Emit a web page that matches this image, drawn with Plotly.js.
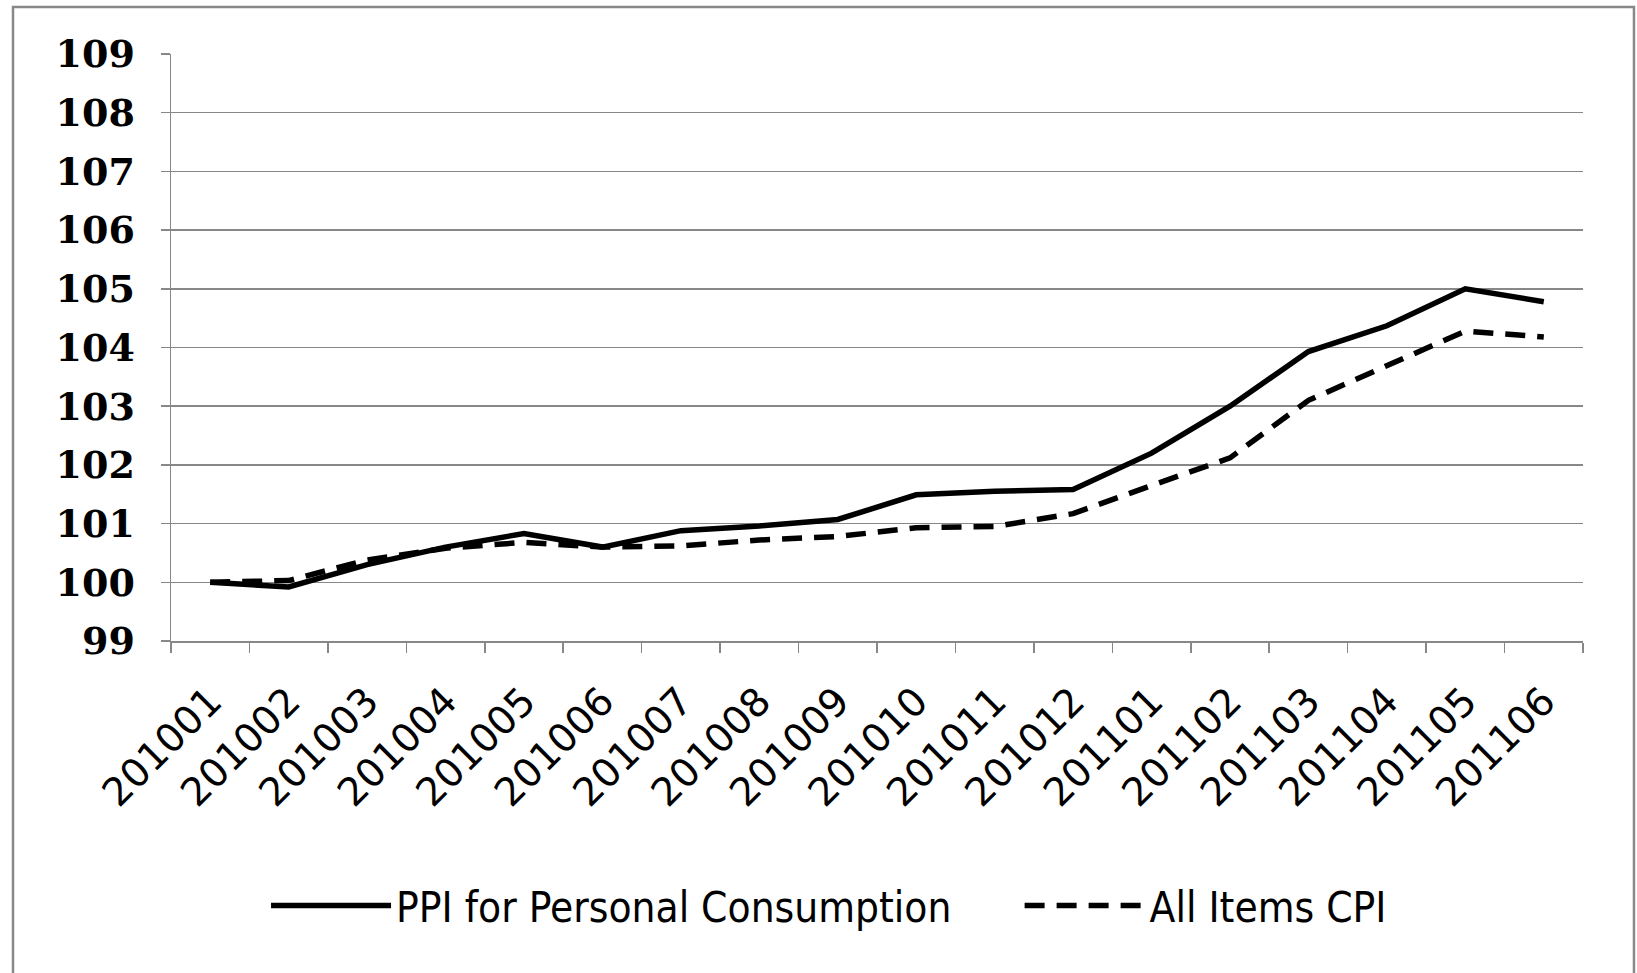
<!DOCTYPE html>
<html>
<head>
<meta charset="utf-8">
<script src="https://cdn.plot.ly/plotly-3.0.1.min.js"></script>
<style>
  html, body { margin: 0; padding: 0; background: #fff; }
  #chart { width: 1637px; height: 973px; }
</style>
</head>
<body>
<div id="chart"></div>
<script>
const months = ['201001','201002','201003','201004','201005','201006','201007','201008','201009',
                '201010','201011','201012','201101','201102','201103','201104','201105','201106'];
const ppiPersonal = [100.0, 99.92, 100.3, 100.6, 100.83, 100.6, 100.88, 100.96, 101.07,
                     101.49, 101.55, 101.58, 102.2, 103.0, 103.93, 104.37, 105.0, 104.78];
const cpiAllItems = [100.0, 100.03, 100.38, 100.58, 100.68, 100.6, 100.62, 100.72, 100.78,
                     100.93, 100.95, 101.17, 101.65, 102.12, 103.1, 103.7, 104.28, 104.18];
const yTicks = [99, 100, 101, 102, 103, 104, 105, 106, 107, 108, 109];

const traces = [
  { x: months, y: ppiPersonal, type: 'scatter', mode: 'lines', name: 'PPI for Personal Consumption',
    legend: 'legend', line: { color: '#000', width: 5.5, dash: 'solid' } },
  { x: months, y: cpiAllItems, type: 'scatter', mode: 'lines', name: 'All Items CPI',
    legend: 'legend2', line: { color: '#000', width: 5.5, dash: '20px,12px' } }
];

const legendFont = { family: 'Liberation Sans Narrow, DejaVu Sans Condensed, Lato, sans-serif', size: 42, color: '#000' };

const layout = {
  width: 1637, height: 973,
  paper_bgcolor: '#fff', plot_bgcolor: '#fff',
  margin: { l: 171, r: 54, t: 54, b: 332 },
  showlegend: true,
  legend: {
    orientation: 'h', x: 0.0673, xanchor: 'left', y: -0.451, yanchor: 'middle',
    font: legendFont, itemwidth: 120, bgcolor: 'rgba(0,0,0,0)'
  },
  legend2: {
    orientation: 'h', x: 0.601, xanchor: 'left', y: -0.451, yanchor: 'middle',
    font: legendFont, itemwidth: 120, bgcolor: 'rgba(0,0,0,0)'
  },
  xaxis: {
    type: 'category', range: [-0.5, 17.5], tickson: 'boundaries',
    ticks: 'outside', ticklen: 10, tickcolor: '#888', tickwidth: 1.5,
    showline: true, linecolor: '#888', linewidth: 1.5,
    showgrid: false, zeroline: false,
    tickangle: -45, ticklabelstandoff: 20,
    tickfont: { family: 'DejaVu Sans, sans-serif', size: 39, color: '#000' }
  },
  yaxis: {
    range: [99, 109], tickvals: yTicks, ticktext: yTicks.map(String),
    ticks: 'outside', ticklen: 9, tickcolor: '#888', tickwidth: 1.5,
    showline: true, linecolor: '#888', linewidth: 1.5,
    showgrid: true, gridcolor: '#888', gridwidth: 1.5, zeroline: false,
    ticklabelstandoff: 18,
    tickfont: { family: 'DejaVu Serif, serif', size: 38, color: '#000', weight: 'bold' }
  },
  shapes: [
    { type: 'rect', xref: 'paper', yref: 'paper', x0: -0.1119, x1: 1.0361, y0: -0.6, y1: 1.0801,
      line: { color: '#888', width: 2.5 }, fillcolor: 'rgba(0,0,0,0)', layer: 'below' }
  ]
};

Plotly.newPlot('chart', traces, layout, { displayModeBar: false, staticPlot: true });
</script>
</body>
</html>
